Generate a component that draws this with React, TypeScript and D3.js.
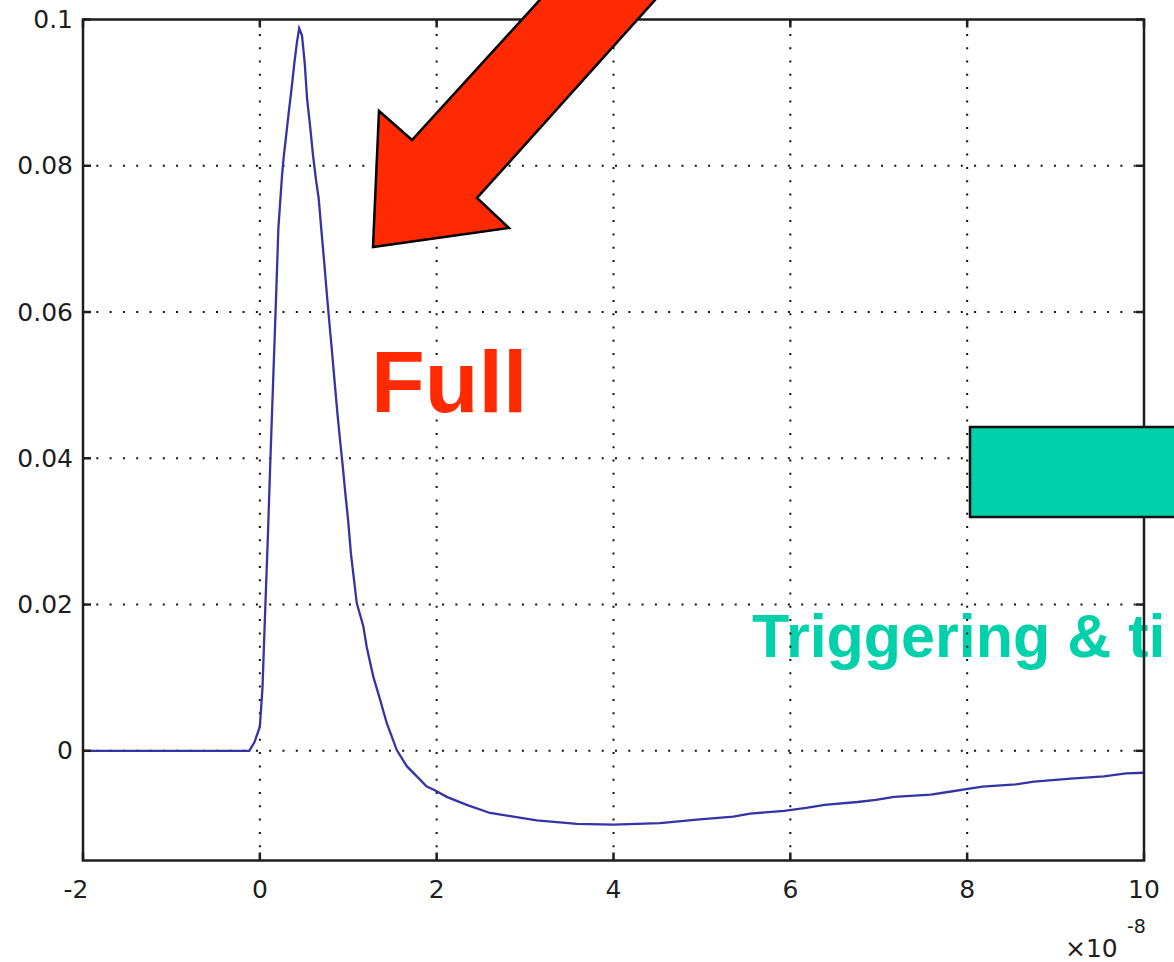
import React from "react";
import * as d3 from "d3";

// time in units of 1e-8 s
const timeValues: number[] = [
  -2, -0.12, -0.06, 0.0, 0.03, 0.06, 0.09, 0.12, 0.15, 0.18, 0.21, 0.25, 0.27, 0.3, 0.33, 0.36, 0.39, 0.42, 0.445,
  0.477, 0.508, 0.534, 0.568, 0.602, 0.636, 0.666, 0.696, 0.726, 0.757, 0.786, 0.817, 0.847, 0.877, 0.907, 0.938,
  0.967, 0.998, 1.03, 1.096, 1.171, 1.209, 1.284, 1.36, 1.435, 1.549, 1.662, 1.888, 1.963, 2.114, 2.34, 2.604,
  2.868, 3.132, 3.585, 4.0, 4.527, 4.942, 5.356, 5.545, 5.93, 6.18, 6.386, 6.76, 6.967, 7.174, 7.59, 7.8, 8.007,
  8.174, 8.547, 8.756, 9.172, 9.547, 9.796, 10,
];
const signalValues: number[] = [
  0, 0, 0.0012, 0.0033, 0.0086, 0.019, 0.029, 0.04, 0.0504, 0.0607, 0.0715, 0.0785, 0.0812, 0.0844, 0.0876, 0.0907,
  0.094, 0.0969, 0.0988, 0.0978, 0.094, 0.0892, 0.0855, 0.0814, 0.078, 0.0755, 0.0712, 0.0671, 0.0626, 0.0586,
  0.0545, 0.0503, 0.0462, 0.0425, 0.0389, 0.0352, 0.0316, 0.027, 0.0202, 0.017, 0.0142, 0.0101, 0.007, 0.0038,
  0.0001, -0.0021, -0.0049, -0.0053, -0.0063, -0.0074, -0.0085, -0.009, -0.0095, -0.01, -0.0101, -0.0099, -0.0094,
  -0.009, -0.0086, -0.0082, -0.0078, -0.0074, -0.007, -0.0067, -0.0063, -0.006, -0.0056, -0.0052, -0.0049, -0.0046,
  -0.0042, -0.0038, -0.0035, -0.0031, -0.003,
];
const xTicks: number[] = [-2, 0, 2, 4, 6, 8, 10];
const yTicks: number[] = [0, 0.02, 0.04, 0.06, 0.08, 0.1];
const yTickLabels: string[] = ["0", "0.02", "0.04", "0.06", "0.08", "0.1"];
const xGrid: number[] = [0, 2, 4, 6, 8];
const yGrid: number[] = [0, 0.02, 0.04, 0.06, 0.08];
const annotationFull = "Full";
const annotationTrig = "Triggering & ti";

export default function App() {
  const W = 1174;
  const H = 962;
  const left = 83, right = 1144, top = 19.5, bottom = 860.5;
  const x = d3.scaleLinear().domain([-2, 10]).range([left, right]);
  const y = d3.scaleLinear().domain([-0.015, 0.1]).range([bottom, top]);
  const pts: [number, number][] = timeValues.map((t, i) => [t, signalValues[i]]);
  const line = d3.line<[number, number]>().x((d) => x(d[0])).y((d) => y(d[1]));
  const axisColor = "#1e1e1e";
  const font = "'DejaVu Sans', sans-serif";
  const tickLen = 8;

  // arrow polygon (annotation shape, in pixels)
  const arrow = [
    [373, 247],
    [379, 111],
    [412, 140],
    [558, -20],
    [673, -20],
    [477, 198],
    [509, 228],
  ];

  return (
    <svg
      width={W}
      height={H}
      style={{ position: "absolute", left: 0, top: 0, background: "#fff" }}
    >
      <rect x={0} y={0} width={W} height={H} fill="#fff" />
      {/* teal text under grid */}
      <text
        x={752}
        y={657}
        fill="#00d1aa"
        fontFamily="'Liberation Sans', Arial, sans-serif"
        fontWeight="bold"
        fontSize={61}
      >
        {annotationTrig}
      </text>
      {/* grid */}
      <g stroke="#111" strokeWidth={2} strokeDasharray="2 11.3">
        {xGrid.map((v) => (
          <line key={"gx" + v} x1={x(v)} x2={x(v)} y1={bottom} y2={top} />
        ))}
        {yGrid.map((v) => (
          <line key={"gy" + v} x1={left} x2={right} y1={y(v)} y2={y(v)} />
        ))}
      </g>
      {/* data line */}
      <path d={line(pts) || ""} fill="none" stroke="#3434a6" strokeWidth={2.3} />
      {/* axes box */}
      <rect x={left} y={top} width={right - left} height={bottom - top} fill="none" stroke={axisColor} strokeWidth={2.5} />
      {/* ticks */}
      <g stroke={axisColor} strokeWidth={2.5}>
        {xTicks.map((v) => (
          <g key={"tx" + v}>
            <line x1={x(v)} x2={x(v)} y1={bottom} y2={bottom - tickLen} />
            <line x1={x(v)} x2={x(v)} y1={top} y2={top + tickLen} />
          </g>
        ))}
        {yTicks.map((v) => (
          <g key={"ty" + v}>
            <line x1={left} x2={left + tickLen} y1={y(v)} y2={y(v)} />
            <line x1={right} x2={right - tickLen} y1={y(v)} y2={y(v)} />
          </g>
        ))}
      </g>
      {/* tick labels */}
      <g fill={axisColor} fontFamily={font} fontSize={25}>
        {yTicks.map((v, i) => (
          <text key={"ly" + v} x={left - 10} y={y(v)} textAnchor="end" dominantBaseline="central">
            {yTickLabels[i]}
          </text>
        ))}
        {xTicks.map((v) => (
          <text key={"lx" + v} x={x(v) - (v < 0 ? 7 : 0)} y={889} textAnchor="middle" dominantBaseline="central">
            {String(v)}
          </text>
        ))}
        <text x={1065} y={957}>
          {"\u00d7"}10
        </text>
        <text x={1127} y={933} fontSize={19}>
          -8
        </text>
      </g>
      {/* teal box */}
      <rect x={970} y={427} width={240} height={90} fill="#00d1aa" stroke="#111" strokeWidth={2.5} />
      {/* red arrow */}
      <polygon
        points={arrow.map((p) => p.join(",")).join(" ")}
        fill="#ff2a00"
        stroke="#000"
        strokeWidth={2.5}
        strokeLinejoin="miter"
      />
      <text
        x={371}
        y={412}
        fill="#ff2a00"
        fontFamily="'Liberation Sans', Arial, sans-serif"
        fontWeight="bold"
        fontSize={88}
      >
        {annotationFull}
      </text>
    </svg>
  );
}
